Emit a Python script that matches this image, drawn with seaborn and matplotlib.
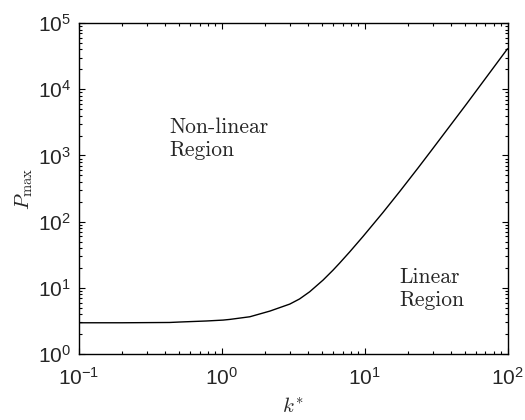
import numpy as np
import pandas as pd
import matplotlib
matplotlib.use('Agg')
import matplotlib.pyplot as plt
import seaborn as sns

# valores
k_star = [0.1, 0.2, 0.43, 0.51, 0.78, 1.02, 1.14, 1.57, 2.17, 2.99, 3.5, 4.12,
          5.11, 6.0, 6.68, 7.85, 9.73, 13.4, 17.6, 23.6, 29.3, 51.4, 100.0]
p_max = [2.97, 2.97, 3.0, 3.05, 3.16, 3.26, 3.34, 3.66, 4.46, 5.69, 6.8, 8.73,
         13.1, 18.5, 23.7, 34.9, 59.7, 137, 286, 645, 1190, 5920, 41000]

datos = pd.DataFrame({'k': k_star, 'P': p_max})

sns.set_style('ticks')
plt.rcParams['font.family'] = ['Liberation Sans', 'DejaVu Sans']
plt.rcParams['mathtext.fontset'] = 'cm'

fig = plt.figure(figsize=(5.25, 4.2), dpi=100)
ax = fig.add_axes([0.1505, 0.157, 0.8162, 0.788])

sns.lineplot(data=datos, x='k', y='P', color='black', linewidth=1.0, ax=ax)

ax.set_xscale('log')
ax.set_yscale('log')
ax.set_xlim(0.1, 100)
ax.set_ylim(1, 1e5)

ax.tick_params(which='both', direction='in', top=True, right=True, labelsize=15,
               width=0.8, color='black')
ax.tick_params(which='major', length=4)
ax.tick_params(which='minor', length=2.5)
ax.tick_params(axis='x', which='major', pad=9)
ax.tick_params(axis='y', which='major', pad=6)
for s in ax.spines.values():
    s.set_linewidth(1.0)
    s.set_color('black')

ax.set_xlabel(r'$k^{*}$', fontsize=15, labelpad=6)
ax.set_ylabel(r'$P_{\max}$', fontsize=15, labelpad=2)

ax.text(0.43, 3700, 'Non-linear\nRegion', fontname='cmr10', fontsize=15.5,
        va='top', ha='left', linespacing=1.2)
ax.text(17.6, 20.4, 'Linear\nRegion', fontname='cmr10', fontsize=15.5,
        va='top', ha='left', linespacing=1.2)

plt.savefig('out.png', dpi=100)
